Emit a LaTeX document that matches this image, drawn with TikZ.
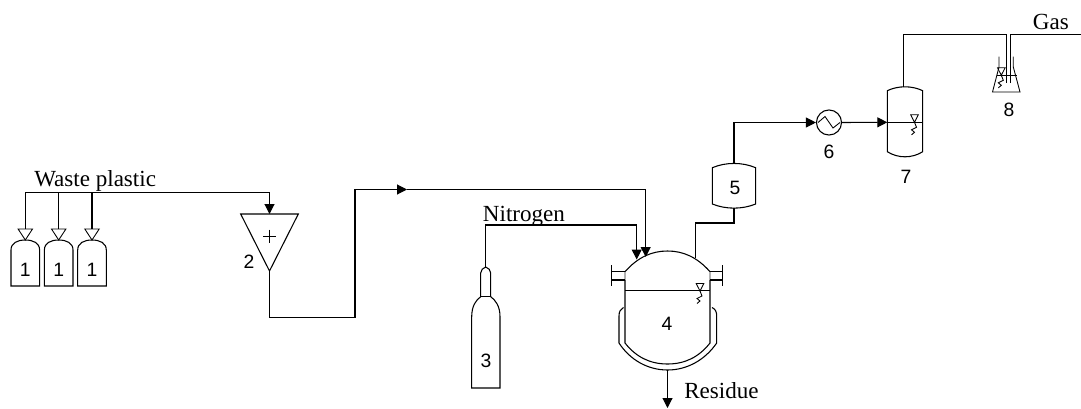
\documentclass[tikz,border=0pt]{standalone}
\usepackage{fontspec}
\setmainfont{Liberation Sans}
\newfontfamily\serifname{Liberation Serif}
\usetikzlibrary{arrows.meta}
\tikzset{
  line/.style={line width=0.8pt,line join=miter},
  flow/.style={line width=0.8pt,-{Triangle[length=7.5pt,width=7.5pt]}},
  num/.style={inner sep=0pt,font=\fontsize{14.5}{14.5}\selectfont},
  lbl/.style={inner sep=0pt,anchor=base west,font=\serifname\fontsize{17.3}{17.3}\selectfont},
  sym/.style={line width=0.65pt},
  lvl/.pic={\draw[sym] (0,0) -- (-3.8,-7.5) -- (3.8,-7.5) -- cycle;
            \draw[sym] (0,0) -- (2,5) -- (-3,7.5) -- (0,10) -- (-3,12.5);},
  bag/.pic={\draw[sym] (-7.2,-11) -- (7.2,-11) -- (0,0) -- cycle;
            \draw[line] (-14.3,10) .. controls (-14.3,3) and (-8,0) .. (0,0)
              .. controls (8,0) and (14.3,3) .. (14.3,10) -- (14.3,46) -- (-14.3,46) -- cycle;}
}
\begin{document}
\begin{tikzpicture}[x=0.75pt,y=-0.75pt]
\useasboundingbox (0,0) rectangle (1081,408);
% ---- labels
\node[lbl] (waste) at (34,186.5) {Waste plastic};
\node[lbl] (nitro) at (482.7,221.5) {Nitrogen};
\node[lbl] (resid) at (684,398) {Residue};
\node[lbl] (gas) at (1032.7,29) {Gas};
% ---- waste bags
\pic at (25.3,240) {bag};
\pic at (58.7,240) {bag};
\pic at (92,240) {bag};
\node[num] (b1) at (25.3,270) {1};
\node[num] (b2) at (58.7,270) {1};
\node[num] (b3) at (92,270) {1};
\coordinate (b1in) at (25.3,229);
\coordinate (b2in) at (58.7,229);
\coordinate (b3in) at (92,229);
\coordinate (wstart) at (25.3,192.7);
\coordinate (w2) at (58.7,192.7);
\coordinate (w3) at (92,192.7);
\draw[line] (b1in) -- (wstart) -- (w3);
\draw[line] (w2) -- (b2in);
\draw[line] (w3) -- (b3in);
% ---- hopper 2
\draw[line] (240.7,214) -- (298.3,214) -- (269.5,271) -- cycle;
\draw[line,line width=0.5pt] (263,236) -- (276,236) (269.5,229.5) -- (269.5,242.5);
\node[num] (n2) at (249,262) {2};
\coordinate (hopin) at (269.5,214);
\coordinate (hopout) at (269.5,271);
\draw[flow] (w3) -| (hopin);
% ---- cylinder 3
\draw[line] (471.7,388) -- (471.7,316.7) .. controls (471.7,306) and (476,300) .. (480.7,296.7)
  -- (480.7,273) .. controls (480.7,270) and (483,268) .. (485.7,267)
  .. controls (488.4,268) and (490.7,270) .. (490.7,273) -- (490.7,296.7)
  .. controls (495.4,300) and (500,306) .. (500,316.7) -- (500,388) -- cycle;
\draw[line] (480.7,296.7) -- (490.7,296.7);
\node[num] (n3) at (486,361) {3};
\coordinate (cylout) at (485.7,267);
% ---- reactor 4
\draw[line] (625,271.7) .. controls (638,257) and (652,251) .. (667.5,251)
  .. controls (683,251) and (697,257) .. (710,271.7);
\draw[line] (625,280) -- (625,343) .. controls (636,357) and (650,364) .. (667.5,364)
  .. controls (685,364) and (699,357) .. (710,343) -- (710,280);
\draw[line,black!30] (625,271.7) -- (625,280) (710,271.7) -- (710,280);
\draw[line] (625,290.7) -- (710,290.7);
\draw[line] (625,271.7) -- (611.7,271.7) (625,280) -- (611.7,280) (611.7,265) -- (611.7,286);
\draw[line] (710,271.7) -- (722.3,271.7) (710,280) -- (722.3,280) (722.3,265) -- (722.3,286);
\draw[line] (623.5,307.5) .. controls (620.5,309) and (619,311.5) .. (619,316) -- (619,343)
  .. controls (630,360) and (648,370) .. (667.5,370)
  .. controls (687,370) and (705,360) .. (716.7,343) -- (716.7,316)
  .. controls (716.7,311.5) and (715.2,309) .. (712,307.5);
\pic at (700,291) {lvl};
\node[num] (n4) at (667,324) {4};
\coordinate (rin1) at (636.7,259.5);
\coordinate (rin2) at (645.7,257);
\coordinate (rout) at (695.7,258);
\coordinate (rbot) at (667.5,370);
\coordinate (rres) at (667.5,408);
\draw[flow] (cylout) |- (485.7,225) -| (rin1);
\coordinate (fa) at (269.5,317.7);
\coordinate (fb) at (355,317.7);
\coordinate (fc) at (355,189.5);
\coordinate (fd) at (407,189.5);
\draw[flow] (hopout) -- (fa) -- (fb) -- (fc) -- (fd);
\draw[flow] (fd) -| (rin2);
\draw[flow] (rbot) -- (rres);
% ---- vessel 5
\draw[line] (712.3,167.7) .. controls (726,162) and (742,162) .. (755.7,167.7) -- (755.7,204)
  .. controls (742,209.5) and (726,209.5) .. (712.3,204) -- cycle;
\node[num] (n5) at (735,188) {5};
\coordinate (v5in) at (734,208);
\coordinate (v5out) at (734,163.5);
\draw[line] (rout) |- (695.7,223) -- (734,223) -- (v5in);
% ---- condenser 6
\node[draw,line width=0.8pt,circle,minimum size=18.8pt,inner sep=0pt] (hx) at (829,122.5) {};
\draw[sym] (818,122.5) -- (825,116.5) -- (833,128) -- (840,122.5);
\node[num] (n6) at (829,152) {6};
\draw[flow] (v5out) |- (hx.west);
% ---- vessel 7
\draw[line] (887.3,90.7) .. controls (898,85.5) and (912,85.5) .. (922.7,90.7) -- (922.7,151.7)
  .. controls (912,158.5) and (898,158.5) .. (887.3,151.7) -- cycle;
\coordinate (v7in) at (887.3,122.3);
\coordinate (v7r) at (922.7,122.3);
\draw[line] (v7in) -- (v7r);
\pic at (914.5,122.3) {lvl};
\node[num] (n7) at (906,176.7) {7};
\draw[flow] (hx.east) -- (v7in);
\coordinate (v7out) at (903.3,87);
% ---- flask 8
\draw[line,line width=0.65pt] (999,56.7) -- (999,67) -- (992.5,92) -- (1020,92) -- (1013.3,67) -- (1013.3,56.7);
\draw[sym] (996.5,75.3) -- (1016.7,75.3);
\pic at (1001.3,75.3) {lvl};
\node[num] (n8) at (1009,110) {8};
\coordinate (fin) at (1006.7,83);
\coordinate (fout) at (1010.3,83);
\coordinate (gasend) at (1081,34.7);
\draw[line] (v7out) |- (1006.7,34.3) -- (fin);
\draw[line] (fout) |- (gasend);
\end{tikzpicture}
\end{document}
